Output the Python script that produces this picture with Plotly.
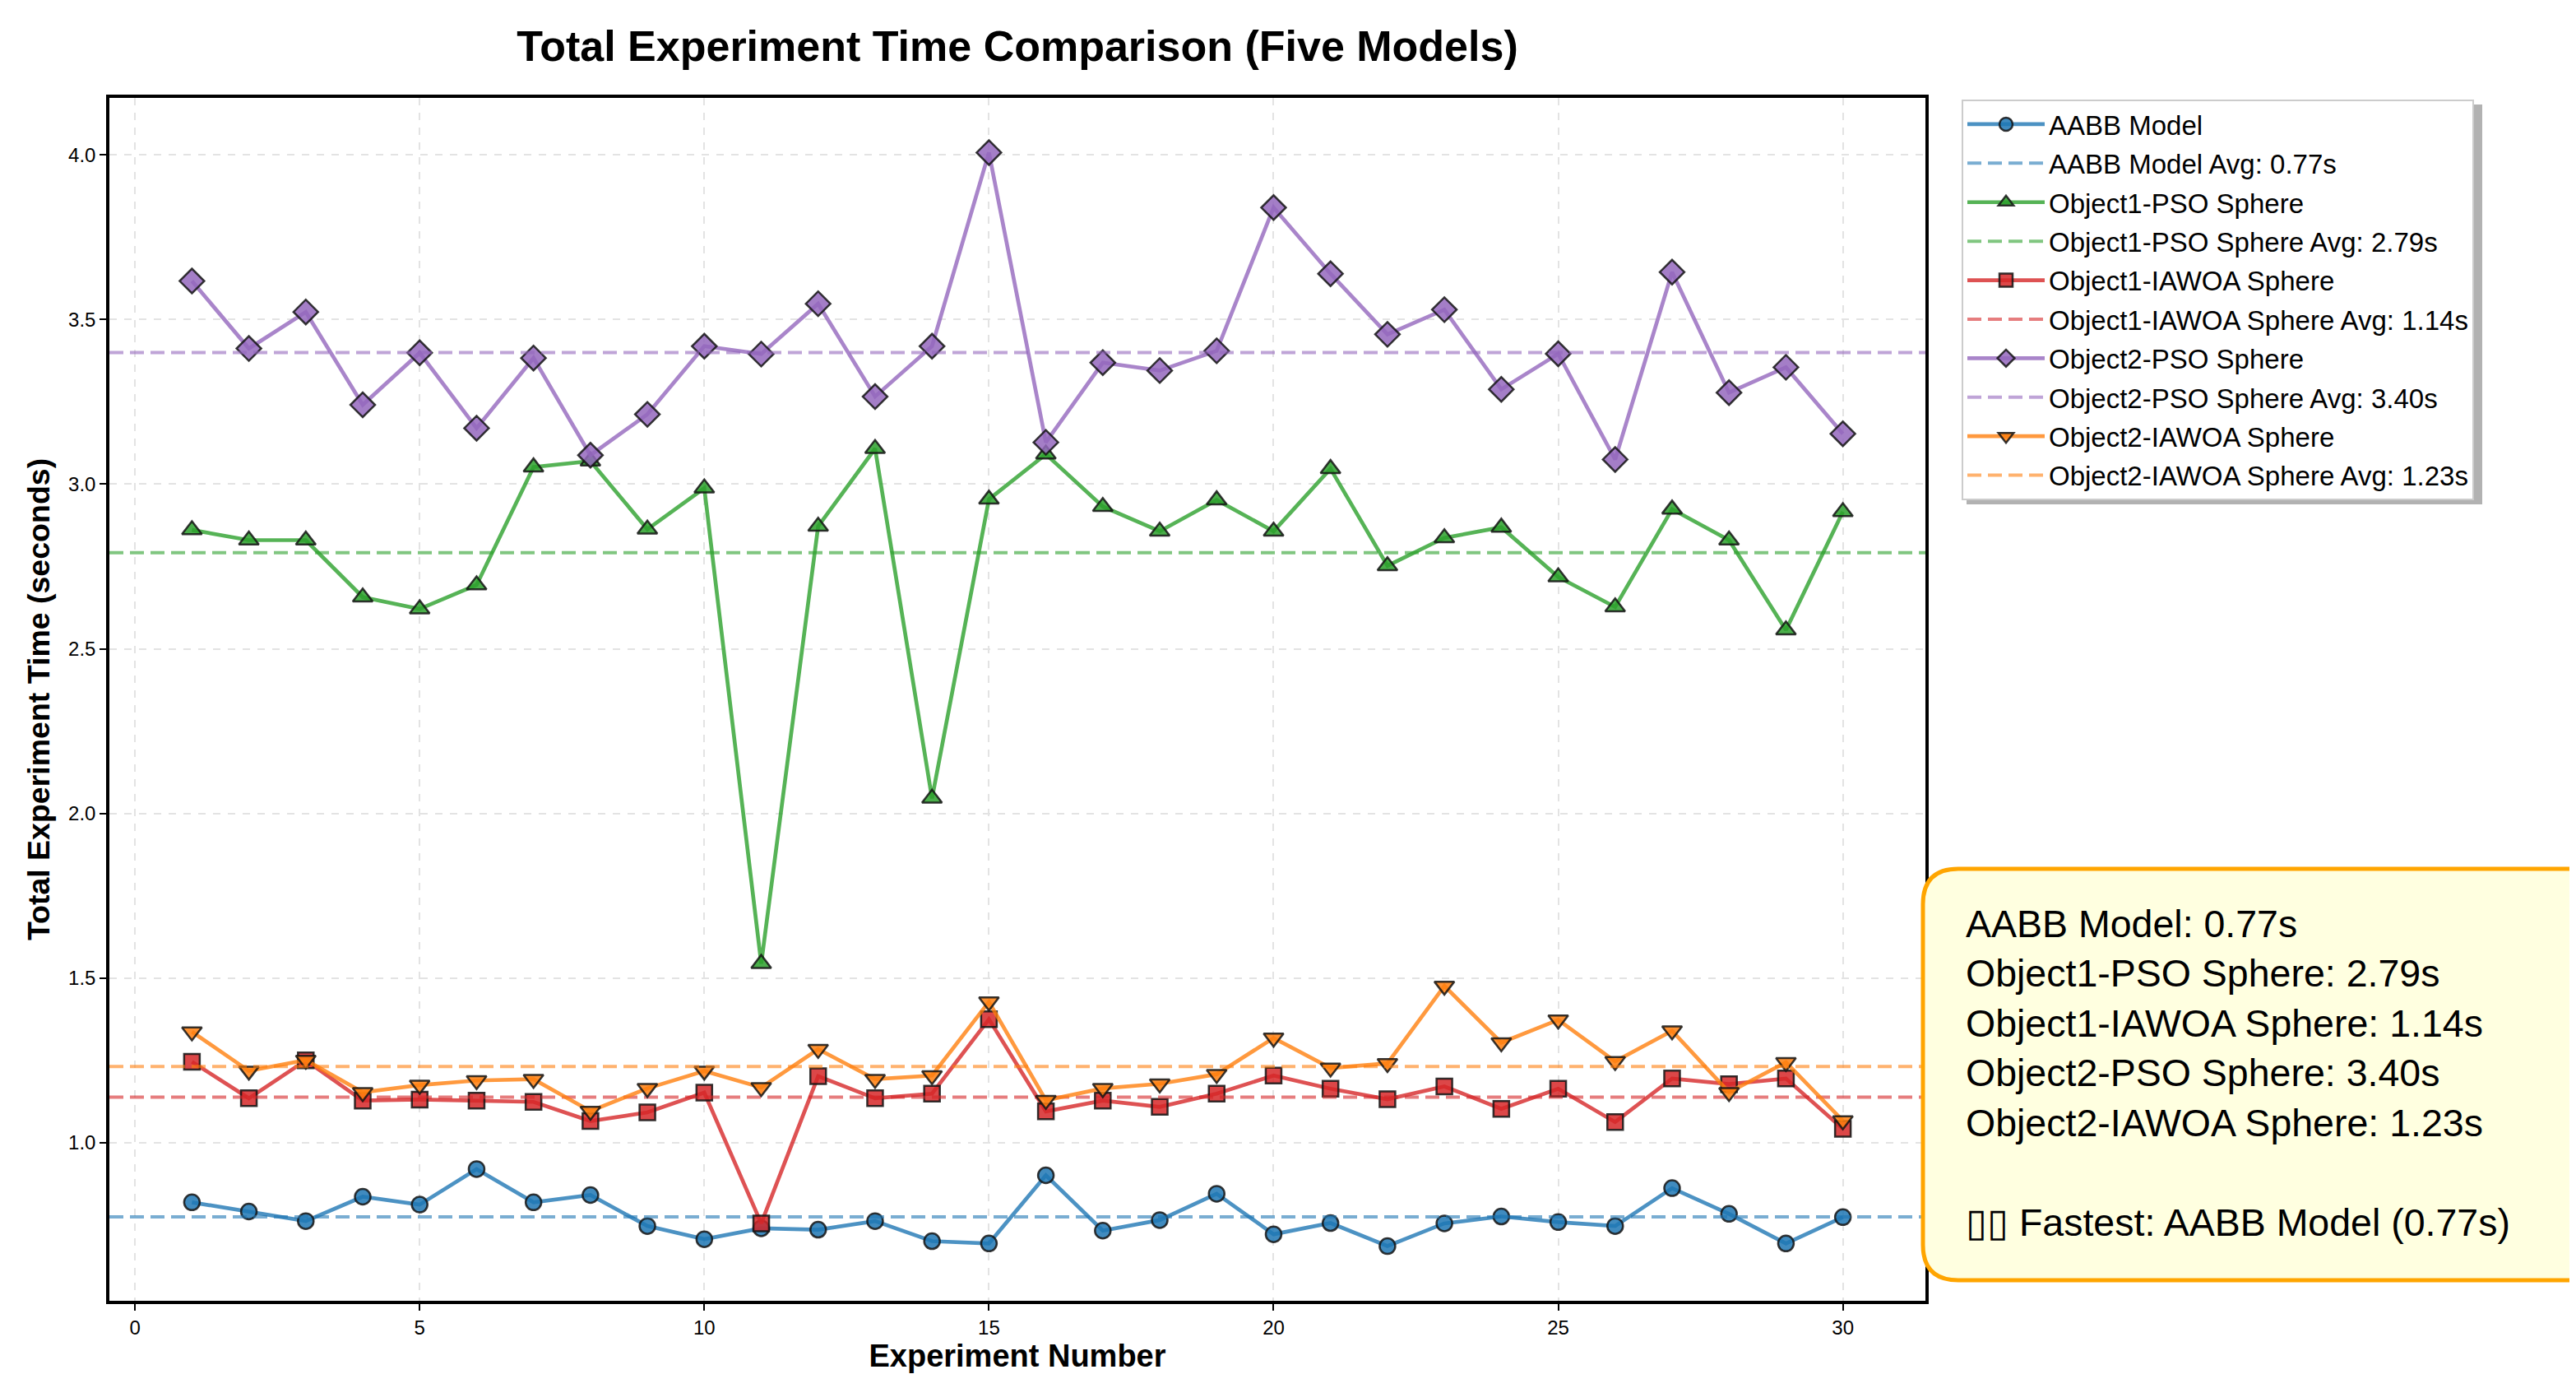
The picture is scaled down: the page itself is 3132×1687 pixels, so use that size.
import numpy as np
import plotly.graph_objects as go

# ---------------- data ----------------
experiments = list(range(1, 31))

aabb = [0.819, 0.791, 0.762, 0.836, 0.812, 0.920, 0.819, 0.841, 0.747, 0.707,
        0.740, 0.736, 0.762, 0.701, 0.694, 0.901, 0.733, 0.765, 0.845, 0.722,
        0.756, 0.686, 0.755, 0.776, 0.759, 0.747, 0.862, 0.784, 0.694, 0.774]

obj1_pso = [2.861, 2.830, 2.830, 2.657, 2.621, 2.694, 3.052, 3.070, 2.863, 2.988,
            1.544, 2.872, 3.108, 2.046, 2.954, 3.091, 2.932, 2.857, 2.952, 2.857,
            3.047, 2.752, 2.837, 2.869, 2.718, 2.627, 2.924, 2.830, 2.557, 2.916]

obj1_iawoa = [1.246, 1.135, 1.250, 1.128, 1.131, 1.128, 1.124, 1.066, 1.092, 1.152,
              0.755, 1.202, 1.135, 1.149, 1.375, 1.095, 1.128, 1.109, 1.149, 1.204,
              1.164, 1.132, 1.171, 1.103, 1.164, 1.063, 1.195, 1.178, 1.195, 1.042]

obj2_pso = [3.617, 3.412, 3.523, 3.241, 3.399, 3.170, 3.383, 3.088, 3.212, 3.419,
            3.395, 3.548, 3.266, 3.419, 4.007, 3.127, 3.369, 3.345, 3.405, 3.840,
            3.639, 3.455, 3.530, 3.288, 3.396, 3.075, 3.644, 3.278, 3.355, 3.153]

obj2_iawoa = [1.337, 1.218, 1.251, 1.153, 1.175, 1.189, 1.193, 1.096, 1.165, 1.218,
              1.168, 1.284, 1.193, 1.204, 1.428, 1.129, 1.165, 1.179, 1.208, 1.318,
              1.227, 1.241, 1.476, 1.304, 1.373, 1.247, 1.340, 1.153, 1.244, 1.067]

model_names = ["AABB Model", "Object1-PSO Sphere", "Object1-IAWOA Sphere",
               "Object2-PSO Sphere", "Object2-IAWOA Sphere"]
series = [aabb, obj1_pso, obj1_iawoa, obj2_pso, obj2_iawoa]

x_ticks = [0, 5, 10, 15, 20, 25, 30]
y_ticks = [1.0, 1.5, 2.0, 2.5, 3.0, 3.5, 4.0]

# ---------------- styles ----------------
base_rgb = [(31, 119, 180), (44, 160, 44), (214, 39, 40), (148, 103, 189), (255, 127, 14)]
symbols = ["circle", "triangle-up", "square", "diamond", "triangle-down"]
msizes = [19, 21, 19, 23, 21]

FONT = "Liberation Sans, Arial, Helvetica, sans-serif"
W, H = 3132, 1687
OFF = 8  # page body margin: screen px = figure px + OFF

# plot area in screen pixels (measured on the reference)
P_LEFT, P_RIGHT, P_TOP, P_BOTTOM = 133, 2341, 119, 1581
ML = P_LEFT - OFF
MT = P_TOP - OFF
MR = W - (P_RIGHT - OFF)
MB = H - (P_BOTTOM - OFF)
PW, PH = P_RIGHT - P_LEFT, P_BOTTOM - P_TOP


def rgba(c, a):
    return f"rgba({c[0]},{c[1]},{c[2]},{a})"


def sx(px):  # screen x -> paper x
    return (px - P_LEFT) / PW


def sy(py):  # screen y -> paper y
    return (P_BOTTOM - py) / PH


# axis ranges as matplotlib auto-margins (5%)
xs = np.array(experiments, dtype=float)
x_lo = xs.min() - 0.05 * (xs.max() - xs.min())
x_hi = xs.max() + 0.05 * (xs.max() - xs.min())
all_y = np.concatenate([np.array(s) for s in series])
y_lo = all_y.min() - 0.05 * (all_y.max() - all_y.min())
y_hi = all_y.max() + 0.05 * (all_y.max() - all_y.min())

fig = go.Figure()
avgs = []
for i, (name, vals) in enumerate(zip(model_names, series)):
    avg = float(np.mean(vals))
    avgs.append(avg)
    c = base_rgb[i]
    fig.add_trace(go.Scatter(
        x=experiments, y=vals, mode="lines+markers", name=name,
        legendgroup=f"g{i}a",
        line=dict(color=rgba(c, 0.8), width=4.7),
        marker=dict(symbol=symbols[i], size=msizes[i], color=rgba(c, 0.85),
                    line=dict(color="rgba(20,20,20,0.85)", width=2.5)),
    ))
    fig.add_trace(go.Scatter(
        x=[x_lo, x_hi], y=[avg, avg], mode="lines",
        name=f"{name} Avg: {avg:.2f}s", legendgroup=f"g{i}b",
        line=dict(color=rgba(c, 0.6), width=4, dash="17px,8px"),
    ))

# ---------------- legend shadow ----------------
LG_L, LG_T = 2385, 121
LG_R, LG_B = 3012, 607  # rendered legend extent (screen px)
SH = 6
fig.add_shape(type="rect", xref="paper", yref="paper", layer="above",
              x0=sx(LG_L + SH), x1=sx(LG_R + SH), y0=sy(LG_T + SH), y1=sy(LG_B + SH),
              fillcolor="rgba(0,0,0,0.3)", line=dict(width=0))

# ---------------- summary box ----------------
fast_i = int(np.argmin(avgs))
box_lines = [f"{n}: {a:.2f}s" for n, a in zip(model_names, avgs)]
box_text = "<br>".join(box_lines) + "<br><br>" + \
    f"\u25af\u25af Fastest: {model_names[fast_i]} ({avgs[fast_i]:.2f}s)"

bx0, bx1, by0, by1, rad = 2338, 3175, 1056, 1556, 43
X0, X1 = sx(bx0), sx(bx1)
Y0, Y1 = sy(by0), sy(by1)
rx, ry = rad / PW, rad / PH
path = (f"M{X0 + rx},{Y0} L{X1 - rx},{Y0} Q{X1},{Y0} {X1},{Y0 - ry} "
        f"L{X1},{Y1 + ry} Q{X1},{Y1} {X1 - rx},{Y1} L{X0 + rx},{Y1} "
        f"Q{X0},{Y1} {X0},{Y1 + ry} L{X0},{Y0 - ry} Q{X0},{Y0} {X0 + rx},{Y0} Z")
fig.add_shape(type="path", path=path, xref="paper", yref="paper", layer="above",
              fillcolor="#FFFFE0", line=dict(color="#FFA500", width=5))
fig.add_annotation(xref="paper", yref="paper", x=sx(2388), y=sy(1095),
                   xanchor="left", yanchor="top", align="left", showarrow=False,
                   text=box_text, font=dict(family=FONT, size=46.5, color="black"))

# ---------------- layout ----------------
axis_common = dict(
    showline=True, linecolor="black", linewidth=3.5, mirror=True,
    ticks="outside", ticklen=8, tickwidth=2, tickcolor="black",
    tickfont=dict(family=FONT, size=24, color="black"),
    showgrid=True, gridcolor="#e3e3e3", gridwidth=2, griddash="dash",
    zeroline=False,
)
fig.update_layout(
    width=W, height=H,
    margin=dict(l=ML, r=MR, t=MT, b=MB),
    paper_bgcolor="white", plot_bgcolor="white",
    font=dict(family=FONT, color="black"),
    title=dict(text="<b>Total Experiment Time Comparison (Five Models)</b>",
               x=0.5, xref="paper", xanchor="center",
               y=1 - (56 - OFF) / H, yref="container", yanchor="middle",
               font=dict(family=FONT, size=52, color="black")),
    xaxis=dict(range=[x_lo, x_hi], tickvals=x_ticks,
               title=dict(text="<b>Experiment Number</b>", standoff=3,
                          font=dict(family=FONT, size=38, color="black")),
               **axis_common),
    yaxis=dict(range=[y_lo, y_hi], tickvals=y_ticks, tickformat=".1f",
               title=dict(text="<b>Total Experiment Time (seconds)</b>", standoff=12,
                          font=dict(family=FONT, size=37.5, color="black")),
               **axis_common),
    legend=dict(x=sx(LG_L), y=sy(LG_T), xanchor="left", yanchor="top",
                bgcolor="white", bordercolor="#cccccc", borderwidth=2,
                font=dict(family=FONT, size=33, color="black"),
                tracegroupgap=1.5, itemwidth=94),
    showlegend=True,
)

fig.write_html("out.html")
